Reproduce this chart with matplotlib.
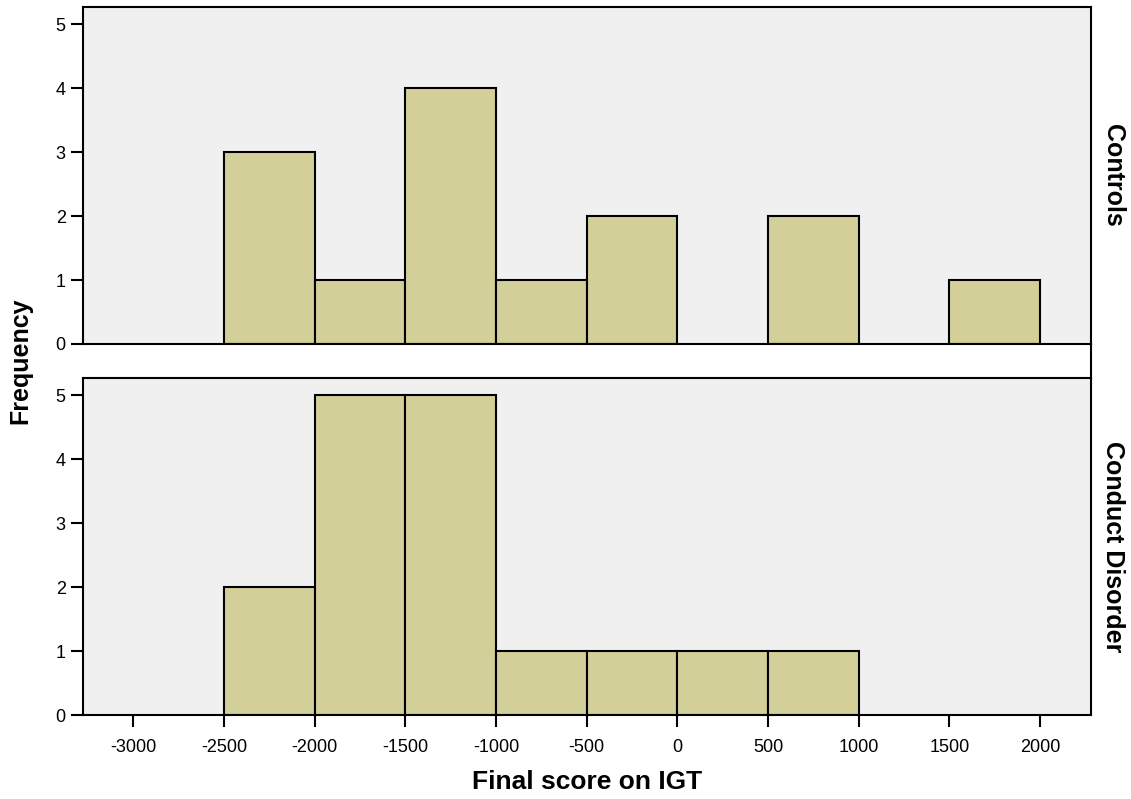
import numpy as np
import matplotlib.pyplot as plt
from matplotlib.lines import Line2D

plt.rcParams['font.family'] = ['Liberation Sans', 'DejaVu Sans']

# Histogram bins (width 500) and counts per group
bin_edges = [-2500, -2000, -1500, -1000, -500, 0, 500, 1000, 1500, 2000]
controls = [3, 1, 4, 1, 2, 0, 2, 0, 1]
conduct = [2, 5, 5, 1, 1, 1, 1, 0, 0]
groups = ['Controls', 'Conduct Disorder']
x_ticks = [-3000, -2500, -2000, -1500, -1000, -500, 0, 500, 1000, 1500, 2000]

bar_color = '#d3cf99'
bg_color = '#f0f0f0'

fig = plt.figure(figsize=(11.31, 7.99), dpi=100)
W, H = 1131, 799
left, right = 83 / W, 1091 / W
ax_top = fig.add_axes([left, 1 - 344 / H, right - left, (344 - 7) / H])
ax_bot = fig.add_axes([left, 1 - 715 / H, right - left, (715 - 378) / H])

edges = np.array(bin_edges)
widths = np.diff(edges)
for ax, counts, name in zip([ax_top, ax_bot], [controls, conduct], groups):
    ax.set_facecolor(bg_color)
    counts = np.array(counts)
    mask = counts > 0
    ax.bar(edges[:-1][mask], counts[mask], width=widths[mask], align='edge',
           color=bar_color, edgecolor='black', linewidth=1.5)
    ax.set_xlim(-3277, 2281)
    ax.set_ylim(0, 5.27)
    ax.set_yticks(range(6))
    ax.tick_params(axis='both', direction='out', length=8.5, width=1.5,
                   labelsize=13, pad=4)
    for s in ax.spines.values():
        s.set_linewidth(1.5)
    ax.text(1.010, 0.5, name, transform=ax.transAxes, rotation=-90,
            ha='left', va='center', fontsize=18, fontweight='bold')

ax_top.tick_params(axis='x', bottom=False, labelbottom=False)
ax_bot.tick_params(axis='x', pad=9)
ax_bot.set_xticks(x_ticks)
ax_bot.set_xticklabels([str(t) for t in x_ticks])
ax_bot.set_xlabel('Final score on IGT', fontsize=19, fontweight='bold', labelpad=10)

# right border across the gap between panels
fig.add_artist(Line2D([right, right], [1 - 344 / H, 1 - 378 / H],
                      color='black', linewidth=1.5, transform=fig.transFigure))

fig.text(20 / W, 1 - 361 / H, 'Frequency', rotation=90, ha='center', va='center',
         fontsize=18, fontweight='bold')

fig.savefig('out.png', dpi=100)
